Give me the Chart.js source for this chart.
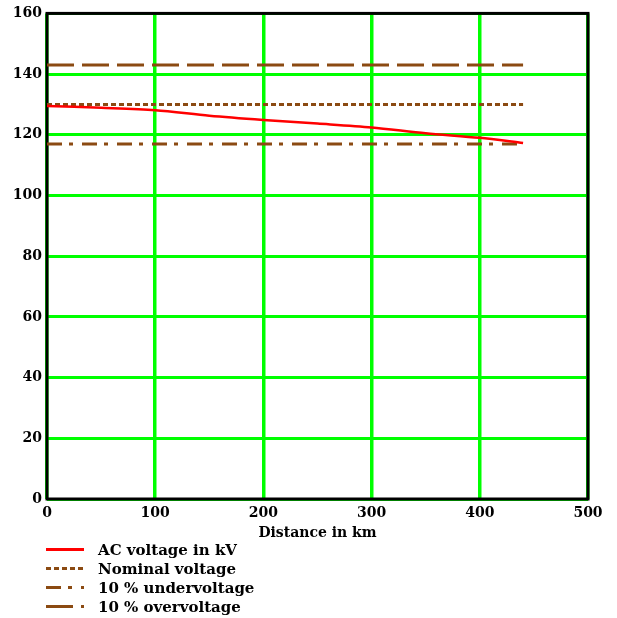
<!DOCTYPE html>
<html>
<head>
<meta charset="utf-8">
<script src="https://cdn.jsdelivr.net/npm/chart.js@4"></script>
<style>
body { margin: 0; background: #fff; }
#wrap { position: relative; width: 617px; height: 618px; }
#legend { position: absolute; left: 46px; top: 540px; font: bold 15px "DejaVu Serif"; color: #000; }
.row { height: 19px; display: flex; align-items: center; }
.row svg { width: 40px; height: 19px; margin-right: 12px; }
</style>
</head>
<body>
<div id="wrap">
  <canvas id="myChart" width="617" height="618"></canvas>
  <div id="legend"></div>
</div>
<script>
// distance along the line, km
const distances = [0, 50, 100, 150, 200, 250, 300, 350, 400, 440];
// AC voltage along the line, kV
const acVoltage = [129.5, 128.9, 128.1, 126.3, 124.9, 123.7, 122.4, 120.5, 119.0, 117.3];

// reference lines
const refDistances = [0, 440];
const nominalVoltage = [130, 130];
const underVoltage = [117, 117];
const overVoltage = [143, 143];

const xTicks = [0, 100, 200, 300, 400, 500];
const yTicks = [0, 20, 40, 60, 80, 100, 120, 140, 160];

const brown = '#8b4a12';
const tickFont = { family: 'DejaVu Serif', weight: 'bold', size: 14 };

function points(xs, ys) {
    return xs.map((x, i) => ({ x: x, y: ys[i] }));
}

// black frame around the plot area
const framePlugin = {
    id: 'frame',
    beforeDatasetsDraw(chart) {
        const a = chart.chartArea;
        const c = chart.ctx;
        c.save();
        c.strokeStyle = '#000';
        c.lineWidth = 3;
        c.strokeRect(a.left, a.top, a.right - a.left, a.bottom - a.top);
        c.restore();
    }
};

const ctx = document.getElementById('myChart').getContext('2d');
const myChart = new Chart(ctx, {
    type: 'line',
    data: {
        datasets: [{
            label: 'AC voltage in kV',
            data: points(distances, acVoltage),
            borderColor: '#ff0000',
            borderWidth: 2.5,
            borderDash: [],
            pointRadius: 0,
            tension: 0.3
        }, {
            label: 'Nominal voltage',
            data: points(refDistances, nominalVoltage),
            borderColor: brown,
            borderWidth: 3,
            borderDash: [5, 3],
            pointRadius: 0
        }, {
            label: '10 % undervoltage',
            data: points(refDistances, underVoltage),
            borderColor: brown,
            borderWidth: 3,
            borderDash: [15, 7, 4, 9],
            pointRadius: 0
        }, {
            label: '10 % overvoltage',
            data: points(refDistances, overVoltage),
            borderColor: brown,
            borderWidth: 3,
            borderDash: [27, 8],
            pointRadius: 0
        }]
    },
    options: {
        responsive: false,
        animation: false,
        plugins: {
            legend: { display: false },
            tooltip: { enabled: false }
        },
        layout: { padding: { top: 12, right: 29, left: 0, bottom: 76 } },
        scales: {
            x: {
                type: 'linear',
                min: 0,
                max: 500,
                afterBuildTicks: s => { s.ticks = xTicks.map(v => ({ value: v })); },
                afterFit: s => { s.height = 43; },
                ticks: { color: '#000', font: tickFont, padding: 6, maxRotation: 0 },
                grid: { color: '#00ff00', lineWidth: 3.5, drawTicks: false },
                border: { display: false },
                title: {
                    display: true,
                    text: 'Distance in km',
                    color: '#000',
                    font: tickFont,
                    padding: { top: 0, bottom: 0 }
                }
            },
            y: {
                min: 0,
                max: 160,
                afterBuildTicks: s => { s.ticks = yTicks.map(v => ({ value: v })); },
                afterFit: s => { s.width = 47; },
                ticks: { color: '#000', font: tickFont, padding: 5 },
                grid: { color: '#00ff00', lineWidth: 3, drawTicks: false },
                border: { display: false }
            }
        }
    },
    plugins: [framePlugin]
});

// legend list below the chart, built from the datasets
const legend = document.getElementById('legend');
myChart.data.datasets.forEach(ds => {
    const row = document.createElement('div');
    row.className = 'row';
    const dash = ds.borderDash.length ? ds.borderDash.join(' ') : 'none';
    row.innerHTML = '<svg><line x1="0" y1="9.5" x2="38" y2="9.5" stroke="' + ds.borderColor +
        '" stroke-width="3" stroke-dasharray="' + dash + '"/></svg><span>' + ds.label + '</span>';
    legend.appendChild(row);
});
</script>
</body>
</html>
